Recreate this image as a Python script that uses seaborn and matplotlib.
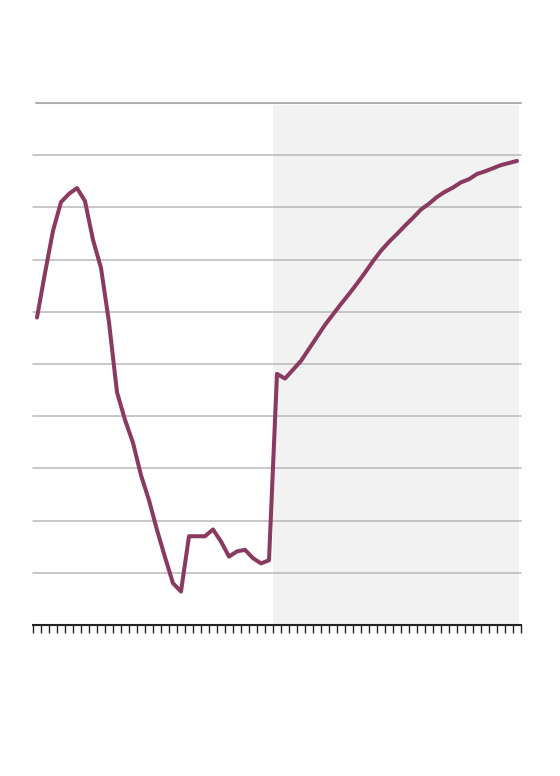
import numpy as np
import pandas as pd
import matplotlib
matplotlib.use("Agg")
import matplotlib.pyplot as plt
import seaborn as sns

# values (gridlines at 1..10)
period = list(range(61))
values = [5.89, 6.74, 7.55, 8.10, 8.26, 8.37, 8.12, 7.38, 6.84, 5.80,
          4.46, 3.93, 3.49, 2.87, 2.39, 1.82, 1.30, 0.80, 0.64, 1.70,
          1.70, 1.70, 1.83, 1.60, 1.31, 1.41, 1.44, 1.28, 1.18, 1.24,
          4.81, 4.72, 4.89, 5.06, 5.29, 5.52, 5.75, 5.95, 6.15, 6.34,
          6.54, 6.75, 6.97, 7.17, 7.34, 7.49, 7.65, 7.80, 7.96, 8.07,
          8.20, 8.30, 8.38, 8.48, 8.54, 8.64, 8.69, 8.75, 8.81, 8.85,
          8.89]
forecast_start = 30
grid_levels = list(range(1, 10))

df = pd.DataFrame({"period": period, "value": values})

sns.set_style("white")
fig = plt.figure(figsize=(5.6, 7.76), dpi=100)
ax = fig.add_axes([0.0589, 0.1946, 0.8715, 0.6727])

# shaded forecast area
ax.axvspan(forecast_start - 0.5, period[-1] + 0.25, ymin=0, ymax=0.996,
           color="#f2f2f2", lw=0, zorder=0)

for g in grid_levels:
    ax.axhline(g, color="#bdbdbd", lw=1.2, zorder=1, clip_on=False)
ax.axhline(10, xmin=0.006, color="#b0b0b0", lw=1.5, zorder=1, clip_on=False)

sns.lineplot(data=df, x="period", y="value", color="#8a3a60", lw=2.9,
             ax=ax, zorder=3)

ax.set_xlim(-0.5, period[-1] + 0.5)
ax.set_ylim(0, 10)
ax.set_xticks(np.arange(-0.5, period[-1] + 1, 1))
ax.set_xticklabels([])
ax.set_yticks([])
ax.tick_params(axis="x", direction="out", length=6, width=1, color="#222222",
               bottom=True)
ax.set_xlabel("")
ax.set_ylabel("")
for s in ["left", "right", "top"]:
    ax.spines[s].set_visible(False)
ax.spines["bottom"].set_color("#222222")
ax.spines["bottom"].set_linewidth(1.5)
ax.patch.set_alpha(0)

fig.savefig("out.png", dpi=100)
